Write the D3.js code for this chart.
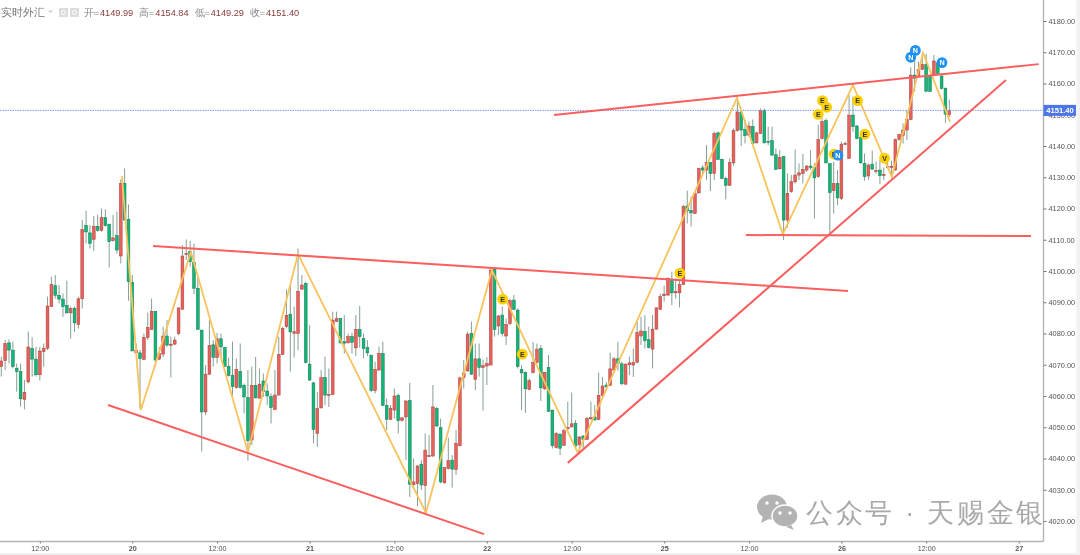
<!DOCTYPE html>
<html><head><meta charset="utf-8">
<script src="https://cdn.jsdelivr.net/npm/d3@7/dist/d3.min.js"></script>
<style>html,body{margin:0;padding:0;background:#fff;overflow:hidden}svg{display:block;filter:blur(0.45px)}text{font-family:"Liberation Sans",Arial,sans-serif}</style>
</head><body><svg id="c" width="1080" height="555"></svg>
<script>
// half-hour candles
const bodyTops=[4071.2,4076.8,4077.0,4074.7,4068.9,4067.8,4061.2,4075.7,4075.2,4071.8,
4074.4,4075.3,4088.8,4095.7,4095.3,4092.2,4091.0,4089.0,4088.0,4088.1,
4091.1,4113.3,4114.6,4112.2,4114.3,4114.3,4117.1,4117.1,4115.0,4110.6,
4111.3,4128.0,4128.0,4116.5,4096.4,4074.7,4073.8,4078.7,4081.9,4087.1,
4087.1,4073.6,4079.2,4079.2,4076.6,4077.9,4088.2,4104.8,4105.6,4106.2,
4102.7,4094.5,4081.1,4067.0,4076.2,4076.4,4078.3,4078.3,4075.5,4069.4,
4066.6,4068.5,4067.9,4063.4,4059.5,4063.4,4063.4,4063.8,4064.8,4061.6,
4059.8,4060.3,4073.3,4081.6,4085.8,4086.2,4080.6,4093.5,4095.5,4096.0,
4070.2,4064.2,4056.0,4065.9,4065.9,4060.5,4084.3,4084.8,4084.8,4077.4,
4079.0,4079.0,4081.3,4081.3,4078.4,4075.5,4073.1,4068.5,4073.6,4073.6,
4057.0,4056.1,4060.0,4060.2,4053.0,4058.4,4058.5,4032.5,4037.6,4038.2,
4042.7,4040.9,4056.5,4056.0,4049.9,4037.1,4039.3,4039.5,4044.8,4065.8,
4067.4,4079.8,4080.0,4071.9,4071.9,4069.7,4070.4,4100.3,4100.5,4085.6,
4085.9,4082.9,4090.5,4090.7,4087.5,4068.5,4067.6,4064.9,4070.7,4075.0,
4075.2,4067.6,4069.1,4055.5,4048.0,4047.8,4048.9,4049.9,4051.1,4051.2,
4046.9,4047.2,4052.8,4053.1,4053.3,4060.2,4063.2,4063.5,4068.7,4071.9,
4071.9,4070.3,4070.2,4070.6,4070.7,4080.3,4080.8,4080.7,4078.0,4081.4,
4088.2,4091.8,4092.6,4097.7,4097.3,4093.4,4095.7,4120.6,4120.8,4119.3,
4124.8,4132.8,4133.0,4134.7,4134.7,4144.0,4144.2,4135.7,4129.6,4134.7,
4144.9,4150.9,4150.9,4145.3,4146.4,4146.2,4144.2,4151.3,4151.3,4141.5,
4141.7,4137.2,4136.4,4136.6,4124.8,4128.6,4130.7,4131.4,4132.5,4133.6,
4133.6,4133.1,4142.1,4147.8,4148.1,4134.4,4128.0,4128.0,4140.6,4140.8,
4149.9,4149.9,4146.4,4142.7,4134.4,4133.9,4134.2,4132.1,4132.3,4130.9,
4133.5,4133.5,4142.1,4143.7,4145.1,4148.5,4162.7,4162.7,4164.5,4166.1,
4166.1,4162.4,4167.2,4166.6,4162.4,4158.5,4151.40];
const bodyBottoms=[4069.4,4071.3,4074.7,4069.4,4067.8,4059.1,4058.9,4064.5,4071.8,4066.8,
4066.8,4074.2,4075.3,4088.6,4092.2,4091.0,4088.6,4086.6,4086.6,4083.4,
4082.9,4091.1,4112.5,4108.8,4110.1,4113.0,4113.0,4114.5,4109.4,4109.7,
4106.7,4104.8,4116.3,4096.6,4074.4,4073.8,4072.0,4071.7,4078.7,4081.3,
4071.5,4071.8,4073.4,4076.3,4076.2,4076.6,4080.0,4087.8,4105.4,4103.0,
4094.5,4081.3,4054.9,4054.9,4067.0,4072.3,4072.3,4075.7,4069.4,4066.6,
4063.0,4062.7,4062.7,4059.7,4045.7,4045.9,4059.4,4059.3,4061.4,4060.0,
4056.3,4055.7,4060.3,4073.3,4082.2,4080.5,4080.0,4080.0,4094.2,4070.7,
4065.1,4049.3,4048.0,4056.2,4060.3,4060.4,4060.5,4083.8,4077.0,4076.9,
4077.0,4077.2,4075.4,4079.0,4075.2,4073.8,4061.7,4061.7,4068.3,4057.0,
4052.5,4052.5,4055.5,4052.1,4052.2,4053.3,4031.8,4031.6,4032.0,4031.5,
4031.3,4040.8,4040.8,4050.4,4032.5,4032.2,4036.8,4036.6,4036.5,4044.1,
4065.9,4068.0,4067.0,4065.3,4069.1,4069.1,4069.6,4069.9,4081.3,4082.4,
4080.0,4079.2,4083.2,4087.7,4069.4,4067.4,4062.3,4062.1,4067.5,4070.7,
4062.6,4062.3,4055.1,4044.1,4043.5,4043.3,4044.2,4049.5,4050.1,4044.0,
4044.4,4046.1,4046.1,4052.7,4052.3,4052.5,4060.1,4062.9,4063.4,4068.3,
4070.4,4063.9,4063.8,4070.0,4069.9,4070.8,4079.2,4077.7,4075.5,4075.0,
4081.4,4087.7,4092.1,4092.3,4093.0,4093.0,4093.0,4095.7,4119.2,4118.6,
4118.4,4125.0,4132.3,4132.3,4131.2,4131.2,4135.7,4129.6,4127.4,4127.4,
4134.6,4144.9,4145.1,4143.3,4143.5,4140.8,4141.0,4144.0,4141.0,4141.3,
4137.1,4132.5,4132.7,4116.3,4116.3,4125.4,4128.5,4130.7,4131.2,4132.3,
4133.1,4129.8,4130.2,4142.4,4134.6,4125.1,4125.7,4123.4,4123.2,4140.6,
4136.0,4146.2,4142.4,4134.6,4130.2,4130.4,4132.6,4131.8,4130.5,4130.6,
4133.1,4133.1,4132.3,4142.1,4143.3,4145.1,4148.5,4161.7,4162.4,4164.5,
4157.5,4157.5,4162.7,4163.2,4158.4,4150.2,4149.99];
const highs=[4072.6,4077.9,4078.1,4077.4,4070.4,4070.4,4065.1,4080.6,4078.8,4075.7,
4075.7,4076.8,4091.8,4098.2,4098.7,4095.5,4092.8,4096.9,4088.6,4088.6,
4091.8,4116.3,4119.3,4114.7,4117.6,4117.9,4120.0,4119.7,4115.0,4117.9,
4119.0,4129.3,4132.8,4121.3,4098.7,4076.8,4074.7,4080.0,4086.7,4091.2,
4087.1,4075.7,4082.2,4084.3,4079.0,4079.0,4088.3,4108.3,4110.1,4109.7,
4108.8,4098.2,4081.1,4069.9,4084.3,4077.9,4080.2,4080.0,4075.7,4072.3,
4077.4,4072.0,4076.8,4064.0,4068.3,4069.4,4072.5,4068.8,4067.2,4064.0,
4060.8,4068.3,4079.0,4082.2,4094.1,4095.5,4088.6,4107.2,4098.7,4096.6,
4082.7,4064.5,4061.3,4068.3,4072.6,4068.8,4087.0,4087.0,4084.8,4085.9,
4080.0,4080.2,4085.9,4088.8,4080.0,4077.9,4073.1,4071.0,4075.8,4077.4,
4059.2,4057.1,4062.4,4060.8,4053.3,4058.7,4064.2,4040.0,4037.9,4039.5,
4048.0,4047.5,4063.5,4056.5,4052.8,4037.1,4046.7,4041.1,4049.1,4066.2,
4071.5,4080.6,4083.8,4076.8,4076.8,4071.7,4072.5,4100.5,4101.1,4085.9,
4088.6,4084.8,4091.2,4092.3,4088.0,4069.9,4067.8,4065.6,4077.3,4076.8,
4076.3,4067.7,4073.1,4055.5,4048.5,4048.0,4049.6,4058.2,4061.1,4052.3,
4047.2,4047.5,4053.3,4058.2,4057.1,4067.5,4066.1,4064.5,4073.9,4072.5,
4077.3,4071.0,4070.4,4072.6,4075.2,4083.8,4085.4,4085.9,4082.2,4085.9,
4088.3,4092.8,4095.3,4097.9,4099.8,4097.6,4097.1,4121.1,4125.7,4123.8,
4125.4,4133.1,4133.9,4140.3,4134.9,4144.6,4144.6,4136.0,4130.2,4136.0,
4145.6,4155.8,4151.3,4148.3,4147.8,4148.5,4144.6,4152.0,4152.0,4146.2,
4146.2,4139.2,4138.7,4136.8,4131.2,4130.7,4138.9,4134.4,4137.4,4133.9,
4138.7,4134.4,4146.7,4148.8,4148.8,4134.4,4135.0,4132.3,4141.4,4141.4,
4156.3,4155.8,4146.7,4143.0,4137.6,4134.4,4138.5,4135.0,4135.5,4133.1,
4136.0,4135.3,4142.4,4144.0,4147.2,4151.5,4165.2,4168.0,4167.0,4169.8,
4169.6,4162.4,4169.1,4167.5,4163.2,4158.7,4154.84];
const lows=[4066.2,4068.3,4070.4,4068.8,4061.4,4056.6,4055.7,4064.0,4066.2,4066.2,
4064.9,4069.4,4074.7,4088.6,4091.2,4089.6,4085.3,4086.4,4078.4,4080.5,
4081.6,4088.0,4108.8,4107.2,4106.5,4112.6,4112.6,4114.2,4101.1,4109.4,
4105.6,4102.4,4116.3,4090.5,4074.4,4073.6,4056.0,4071.5,4077.9,4081.1,
4069.4,4071.5,4072.5,4075.7,4065.9,4076.3,4079.5,4087.5,4103.5,4101.4,
4092.6,4081.3,4042.2,4053.9,4066.7,4069.4,4070.4,4072.0,4069.4,4066.2,
4059.2,4062.4,4062.4,4054.4,4039.3,4044.3,4059.2,4059.2,4059.7,4057.1,
4051.2,4055.5,4060.2,4073.1,4081.6,4067.8,4072.3,4074.7,4093.9,4070.4,
4064.9,4044.8,4043.7,4056.0,4057.1,4056.5,4060.3,4083.8,4076.8,4073.6,
4076.8,4073.6,4072.8,4075.5,4072.0,4072.8,4061.3,4060.8,4068.1,4056.8,
4049.1,4052.3,4052.8,4048.0,4051.8,4039.5,4027.7,4030.9,4024.7,4029.9,
4022.4,4040.5,4040.5,4050.1,4032.0,4032.0,4036.5,4030.7,4034.7,4043.8,
4062.4,4067.8,4066.7,4061.9,4066.2,4055.3,4063.5,4069.9,4079.0,4079.5,
4079.0,4076.3,4082.7,4087.5,4068.8,4055.5,4054.6,4061.9,4067.2,4070.4,
4058.4,4061.9,4054.9,4043.2,4043.2,4041.1,4044.0,4049.1,4049.9,4043.7,
4041.4,4043.2,4045.9,4052.3,4052.3,4052.3,4059.7,4061.9,4063.2,4068.1,
4068.1,4063.5,4063.5,4066.7,4066.1,4070.4,4076.3,4075.2,4075.2,4068.8,
4081.3,4087.5,4090.2,4092.1,4089.1,4091.2,4088.3,4095.5,4115.2,4114.2,
4118.2,4124.8,4131.2,4129.1,4125.6,4129.1,4135.5,4129.4,4122.9,4127.2,
4133.6,4144.6,4140.0,4140.8,4143.0,4140.6,4140.8,4144.0,4140.8,4140.3,
4136.8,4132.3,4132.5,4109.9,4113.9,4125.0,4128.0,4129.1,4128.0,4131.8,
4132.3,4116.8,4129.9,4142.1,4134.4,4112.0,4118.4,4121.1,4122.7,4140.3,
4136.0,4144.6,4142.1,4134.4,4128.9,4129.1,4132.3,4131.2,4127.8,4129.1,
4132.8,4130.2,4132.1,4141.7,4140.8,4141.9,4148.3,4157.4,4162.2,4164.3,
4157.3,4157.3,4162.5,4162.7,4158.1,4147.4,4149.29];
const directions="RRGGGGRRGG"+"RRRRGGGGRG"+"RRGGRGRGGR"+"GRGGGRGRRR"+"GRRGRRRRRG"+"GGGRRGRGGG"+"GRGGGRGRGG"
+"GRRRRGRRRG"+"GGRRGRRRGG"+"RGRGGGGRRG"+"GRRGRRGRRG"+"RRRGGRRGRR"+"RRGRGRRRGR"+"GRRGGGGRRR"
+"GRGGRGRRRG"+"RGRRGRRGRR"+"GGRRRRRGGR"+"RRRRGRRRGG"+"RRGRGRGGGR"+"RRGGRGRRGG"+"GGRGRRRRRR"
+"GGRRGGRGRR"+"RGGGGRGRGR"+"RRRRRRRGRR"+"GGRGGGR";

const priceTicks=d3.range(4020,4181,10);
const timeTicks=[10,34,56,80,102,126,148,172,194,218,240,264];
const timeLabels=["12:00","20","12:00","21","12:00","22","12:00","25","12:00","26","12:00","27"];
const lastPrice=4151.40;
const headerLabels=["开","高","低","收"];
const headerValues=["4149.99","4154.84","4149.29","4151.40"];

// trend lines: bar position, price
const wedgeLow=[[27.7,4057.1],[125.3,4015.8]];
const wedgeHigh=[[39.4,4108.0],[219.7,4093.6]];
const channelHigh=[[143.4,4149.9],[269.2,4166.2]];
const channelLow=[[147.0,4038.6],[260.7,4161.1]];
const flatLine=[[193.2,4111.5],[267.2,4111.2]];
const zigzag=[[31.3,4130.4],[36.2,4055.5],[49.2,4106.1],[64.0,4042.1],[77.0,4105.4],[110.2,4022.6],[127.3,4100.3],[149.6,4041.8],[190.9,4155.4],[202.8,4111.8],[221.0,4159.5],[231.1,4130.1],[239.2,4169.8],[246.2,4147.7]];
const eMarks=[[130.1,4091.0,"E"],[135.2,4073.4,"E"],[176.1,4099.3,"E"],[213.1,4154.5,"E"],[214.2,4152.4,"E"],[212.0,4150.1,"E"],[216.1,4137.4,"E"],[222.2,4154.5,"E"],[224.1,4143.8,"E"],[229.2,4136.1,"V"]];
const nMarks=[[217.1,4137.1,"N"],[236.0,4168.4,"N"],[237.2,4170.6,"N"],[244.1,4166.7,"N"]];

const svg=d3.select("#c");
const x=d3.scaleLinear().domain([0,246]).range([1.3,949.3]);
const y=d3.scaleLinear().domain([4020,4180]).range([521,21]);
const axisX=1043.5, axisY=541.5;
const UP="#e8625c",UPB="#a93c38",DN="#10b877",DNB="#17754f",WICK="#84a092";

// candles
const bars=svg.append("g").selectAll("g").data(bodyTops.map((t,i)=>({i,t,b:bodyBottoms[i],h:highs[i],l:lows[i],up:directions[i]==="R"}))).join("g");
bars.append("line").attr("x1",d=>x(d.i)).attr("x2",d=>x(d.i)).attr("y1",d=>y(d.h)).attr("y2",d=>y(d.l)).attr("stroke",WICK).attr("stroke-width",1);
bars.append("rect").attr("x",d=>x(d.i)-1.4).attr("width",2.8).attr("y",d=>y(d.t)).attr("height",d=>Math.max(1,y(d.b)-y(d.t)))
 .attr("fill",d=>d.up?UP:DN).attr("stroke",d=>d.up?UPB:DNB).attr("stroke-width",0.5);

// last price line
svg.append("line").attr("x1",0).attr("x2",axisX).attr("y1",y(lastPrice)).attr("y2",y(lastPrice)).attr("stroke","#7f9cf0").attr("stroke-width",1).attr("stroke-dasharray","1.5 1");

// zigzag and trend lines
const ln=d3.line().x(d=>x(d[0])).y(d=>y(d[1]));
svg.append("path").attr("d",ln(zigzag)).attr("fill","none").attr("stroke","#f9c35c").attr("stroke-width",1.8);
[wedgeLow,wedgeHigh,channelHigh,channelLow,flatLine].forEach(l=>svg.append("path").attr("d",ln(l)).attr("fill","none").attr("stroke","#fa5f5f").attr("stroke-width",2));

// markers
const mk=(data,fill,col)=>{const g=svg.append("g").selectAll("g").data(data).join("g").attr("transform",d=>`translate(${x(d[0])},${y(d[1])})`);
 g.append("circle").attr("r",5.4).attr("fill",fill);
 g.append("text").attr("text-anchor","middle").attr("y",2.6).attr("font-size",7.2).attr("font-weight","bold").attr("fill",col).text(d=>d[2]);};
mk(eMarks,"#fad000","#333");
mk(nMarks,"#1e92ee","#fff");

// axes
const ax=svg.append("g").attr("transform",`translate(${axisX},0)`).call(d3.axisRight(y).tickValues(priceTicks).tickSize(3).tickPadding(2).tickFormat(d3.format(".2f")));
ax.select(".domain").attr("stroke","#b5b5b5").attr("stroke-width",1.4).attr("d",`M0,0V${axisY}`);
ax.selectAll(".tick line").attr("stroke","#777");
ax.selectAll("text").attr("font-size",7.4).attr("font-family","Liberation Sans").attr("fill","#555");
const bx=svg.append("g").attr("transform",`translate(0,${axisY})`).call(d3.axisBottom(x).tickValues(timeTicks).tickSize(2).tickPadding(2).tickFormat((d,i)=>timeLabels[i]));
bx.select(".domain").attr("stroke","#b5b5b5").attr("stroke-width",1.4).attr("d",`M0,0H${axisX}`);
bx.selectAll(".tick line").attr("stroke","#777");
bx.selectAll("text").attr("font-size",7.2).attr("font-family","Liberation Sans").attr("fill","#555").attr("font-weight",(d,i)=>i%2?"bold":"normal");

// last price tag
svg.append("rect").attr("x",axisX).attr("y",y(lastPrice)-5.5).attr("width",32.5).attr("height",11).attr("fill","#4a76e8");
svg.append("text").attr("x",axisX+16.5).attr("y",y(lastPrice)+3).attr("text-anchor","middle").attr("font-size",7.6).attr("font-weight","bold").attr("fill","#fff").text(d3.format(".2f")(lastPrice));

// header
const CJK='"Noto Sans CJK SC","Noto Sans",sans-serif';
svg.append("text").attr("x",1).attr("y",15.5).attr("font-size",11).attr("font-family",CJK).attr("fill","#777").text("实时外汇");
svg.append("path").attr("d","M48,10.5h5l-2.5,2.5z").attr("fill","#ccc");
[59,70].forEach(v=>{svg.append("rect").attr("x",v).attr("y",8).attr("width",9).attr("height",9).attr("fill","#ddd");
 svg.append("circle").attr("cx",v+4.5).attr("cy",12.5).attr("r",2).attr("fill","none").attr("stroke","#fff");});
const headerX=d3.scalePoint().domain(headerLabels).range([84,250]);
headerLabels.forEach((h,i)=>{
 svg.append("text").attr("x",headerX(h)).attr("y",15.5).attr("font-size",9.5).attr("font-family",CJK).attr("fill","#888").text(h);
 svg.append("text").attr("x",headerX(h)+9.5).attr("y",15.5).attr("font-size",9.5).attr("fill","#888").text("=");
 svg.append("text").attr("x",headerX(h)+16).attr("y",15.5).attr("font-size",9.2).attr("fill","#8a3b3b").text(headerValues[i]);});

// watermark
const wm=svg.append("g").attr("fill","#b3b3b3");
wm.append("ellipse").attr("cx",772).attr("cy",507).attr("rx",15).attr("ry",12.5);
wm.append("path").attr("d","M763,516l-2,7l8,-4z");
wm.append("ellipse").attr("cx",785).attr("cy",516).attr("rx",13).attr("ry",11).attr("stroke","#fff").attr("stroke-width",1.5);
wm.append("path").attr("d","M791,525l3,5l-8,-3z");
[[767,503],[777,503],[780,513],[790,513]].forEach(p=>wm.append("circle").attr("cx",p[0]).attr("cy",p[1]).attr("r",1.7).attr("fill","#fff"));
svg.append("text").attr("x",806).attr("y",522).attr("font-size",27).attr("font-family",CJK).attr("fill","#a9a9a9").attr("letter-spacing",2.7).text("公众号 · 天赐金银");
svg.append("rect").attr("x",0).attr("y",553).attr("width",1080).attr("height",2).attr("fill","#efefef");
svg.append("rect").attr("x",1076.5).attr("y",0).attr("width",3.5).attr("height",555).attr("fill","#f2f2f2");
</script></body></html>
